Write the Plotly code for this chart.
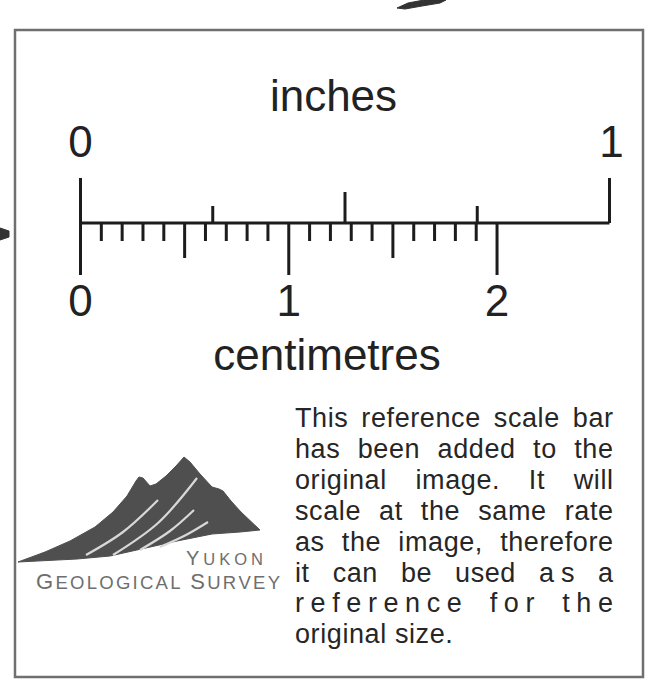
import plotly.graph_objects as go

# ---------------- data ----------------
inch_ticks = [0.0, 0.25, 0.5, 0.75, 1.0]
inch_tick_kind = ["end", "quarter", "half", "quarter", "end"]
inch_labels = ["0", "1"]
inch_label_pos = [0.0, 1.0]
mm_ticks = list(range(0, 21))
cm_labels = ["0", "1", "2"]
cm_label_pos = [0, 1, 2]
title_top = "inches"
title_bottom = "centimetres"

para_lines = [
    "This reference scale bar",
    "has been added to the",
    "original image. It will",
    "scale at the same rate",
    "as the image, therefore",
    "it can be used as a",
    "reference for the",
    "original size.",
]
logo_line1 = "YUKON"
logo_line2 = "GEOLOGICAL SURVEY"

# mountain logo outline and streaks (shape of the emblem)
mountain_x = [18, 45, 70, 95, 113, 127, 136, 139, 143, 150, 156, 166, 176, 184, 190, 200, 212, 219, 223, 231, 241, 250, 260,
              240, 212, 177, 143, 110, 77, 43, 18]
mountain_y = [562, 552, 541, 527, 512, 496, 481, 477, 478, 486, 484, 476, 466, 457, 462, 474, 487, 489, 491, 501, 512, 521, 530,
              532, 534, 541, 549, 556, 559, 561, 562]
streaks = [
    ([86, 123, 158], [555, 532, 500]),
    ([113, 158, 197], [555, 523, 478]),
    ([140, 170, 194], [550, 531, 510]),
    ([160, 186, 208], [547, 535, 522]),
]

# ---------------- layout constants ----------------
W, H = 649, 680
X0 = 80.5
PX_IN = 529.0
PX_CM = PX_IN / 2.54
Y_LINE = 223
UP = {"end": 45, "half": 31, "quarter": 17}
INK = "#1c1c1c"
FONT = "Liberation Sans, Arial, sans-serif"

ADV = {
    'a': 556, 'b': 556, 'c': 500, 'd': 556, 'e': 556, 'f': 278, 'g': 556, 'h': 556, 'i': 222, 'j': 222,
    'k': 500, 'l': 222, 'm': 833, 'n': 556, 'o': 556, 'p': 556, 'q': 556, 'r': 333, 's': 500, 't': 278,
    'u': 556, 'v': 500, 'w': 722, 'x': 500, 'y': 500, 'z': 500,
    'A': 667, 'B': 667, 'C': 722, 'D': 722, 'E': 667, 'F': 611, 'G': 778, 'H': 722, 'I': 278, 'J': 500,
    'K': 667, 'L': 556, 'M': 833, 'N': 722, 'O': 778, 'P': 667, 'Q': 778, 'R': 722, 'S': 667, 'T': 611,
    'U': 722, 'V': 667, 'W': 944, 'X': 667, 'Y': 667, 'Z': 611,
    ' ': 278, '.': 278, ',': 278,
}


def adv(c):
    return ADV.get(c, 556) / 1000.0


def line_chars(words, fs, ls_list, x0, x1, justify):
    widths = [sum(adv(c) for c in w) * fs + ls * (len(w) - 1) for w, ls in zip(words, ls_list)]
    if justify and len(words) > 1:
        gap = (x1 - x0 - sum(widths)) / (len(words) - 1)
    else:
        gap = adv(' ') * fs + ls_list[0] * 2
    chars, xs = [], []
    x = x0
    for w, ls, wd in zip(words, ls_list, widths):
        cx = x
        for c in w:
            a = adv(c) * fs
            chars.append(c)
            xs.append(cx + a / 2)
            cx += a + ls
        x += wd + gap
    return chars, xs


def fit_chars(chars, sizes, x0, x1):
    nat = sum(adv(c) * s for c, s in zip(chars, sizes))
    ls = (x1 - x0 - nat) / (len(chars) - 1)
    xs = []
    x = x0
    for c, s in zip(chars, sizes):
        a = adv(c) * s
        xs.append(x + a / 2)
        x += a + ls
    return xs


fig = go.Figure()

# ---------------- scale bar lines ----------------
lx, ly = [], []
lx += [X0, X0 + PX_IN, None]
ly += [Y_LINE, Y_LINE, None]
for t, k in zip(inch_ticks, inch_tick_kind):
    x = X0 + t * PX_IN
    lx += [x, x, None]
    ly += [Y_LINE, Y_LINE - UP[k], None]
for m in mm_ticks:
    x = X0 + m / 10.0 * PX_CM
    d = 52 if m % 10 == 0 else (35 if m % 5 == 0 else 18)
    lx += [x, x, None]
    ly += [Y_LINE, Y_LINE + d, None]
fig.add_trace(go.Scatter(x=lx, y=ly, mode="lines", line=dict(color=INK, width=3),
                         hoverinfo="skip", showlegend=False))

# ---------------- big labels ----------------
BIG = 44
big_txt, big_x, big_y = [], [], []
for lab, p in zip(inch_labels, inch_label_pos):
    big_txt.append(lab)
    big_x.append(X0 + p * PX_IN + (2 if p == 1 else 0))
    big_y.append(157 - 0.25 * BIG)
for lab, p in zip(cm_labels, cm_label_pos):
    big_txt.append(lab)
    big_x.append(X0 + p * PX_CM)
    big_y.append(316 - 0.25 * BIG)
big_txt += [title_top, title_bottom]
big_x += [333.5, 327]
big_y += [111 - 0.25 * BIG, 370 - 0.25 * BIG]
fig.add_trace(go.Scatter(x=big_x, y=big_y, text=big_txt, mode="text", textposition="middle center",
                         textfont=dict(family=FONT, size=BIG, color="#222222"),
                         hoverinfo="skip", showlegend=False))

# ---------------- paragraph ----------------
PFS = 27
PLS = 0.6
P_X0, P_X1 = 295, 613
p_chars, p_x, p_y = [], [], []
for i, line in enumerate(para_lines):
    words = line.split(" ")
    ls_list = [PLS] * len(words)
    if i == 5:
        ls_list[words.index("as")] = 7.0
    if i == 6:
        ls_list = [6.6] * len(words)
    justify = i < len(para_lines) - 1
    chars, xs = line_chars(words, PFS, ls_list, P_X0, P_X1, justify)
    base = 427 + 30.9 * i
    p_chars += chars
    p_x += xs
    p_y += [base - 0.25 * PFS] * len(chars)
fig.add_trace(go.Scatter(x=p_x, y=p_y, text=p_chars, mode="text", textposition="middle center",
                         textfont=dict(family=FONT, size=PFS, color="#262626"),
                         hoverinfo="skip", showlegend=False))

# ---------------- logo ----------------
fig.add_trace(go.Scatter(x=mountain_x, y=mountain_y, mode="lines", fill="toself",
                         fillcolor="#4f4f4f", line=dict(color="#4f4f4f", width=1),
                         hoverinfo="skip", showlegend=False))
for sx, sy in streaks:
    fig.add_trace(go.Scatter(x=sx, y=sy, mode="lines", line=dict(color="#d8d8d8", width=2.2, shape="spline"),
                             hoverinfo="skip", showlegend=False))

l_chars, l_x, l_y, l_s = [], [], [], []
for text, x0, x1, base, big, small in [(logo_line1, 186, 263, 565, 20, 16.5),
                                       (logo_line2, 36, 280, 589, 22, 18.5)]:
    chars = list(text)
    sizes = []
    for j, c in enumerate(chars):
        first = (j == 0) or (chars[j - 1] == " ")
        sizes.append(big if first else small)
    xs = fit_chars(chars, sizes, x0, x1)
    l_chars += chars
    l_x += xs
    l_y += [base - 0.25 * s for s in sizes]
    l_s += sizes
fig.add_trace(go.Scatter(x=l_x, y=l_y, text=l_chars, mode="text", textposition="middle center",
                         textfont=dict(family=FONT, size=l_s, color="#6e6e6e"),
                         hoverinfo="skip", showlegend=False))

# ---------------- frame & stray fragments ----------------
shapes = [
    dict(type="rect", x0=15, y0=30, x1=643, y1=677, line=dict(color="#6f6f6f", width=2.5),
         xref="x", yref="y", layer="below"),
    dict(type="path", path="M 397 8 L 408 3 L 424 0 L 446 0 L 440 3 L 422 6 L 405 9 Z",
         fillcolor="#333333", line=dict(color="#333333", width=1), xref="x", yref="y"),
    dict(type="path", path="M 0 228 L 9 231 L 9 237 L 0 240 Z",
         fillcolor="#333333", line=dict(color="#333333", width=1), xref="x", yref="y"),
]

fig.update_layout(
    width=W, height=H, margin=dict(l=0, r=0, t=0, b=0),
    paper_bgcolor="white", plot_bgcolor="white",
    xaxis=dict(range=[0, W], visible=False, fixedrange=True),
    yaxis=dict(range=[H, 0], visible=False, fixedrange=True),
    shapes=shapes, showlegend=False,
)

fig.write_html("out.html", config={"displayModeBar": False},
               post_script="document.body.style.margin='0';document.body.style.overflow='hidden';")
